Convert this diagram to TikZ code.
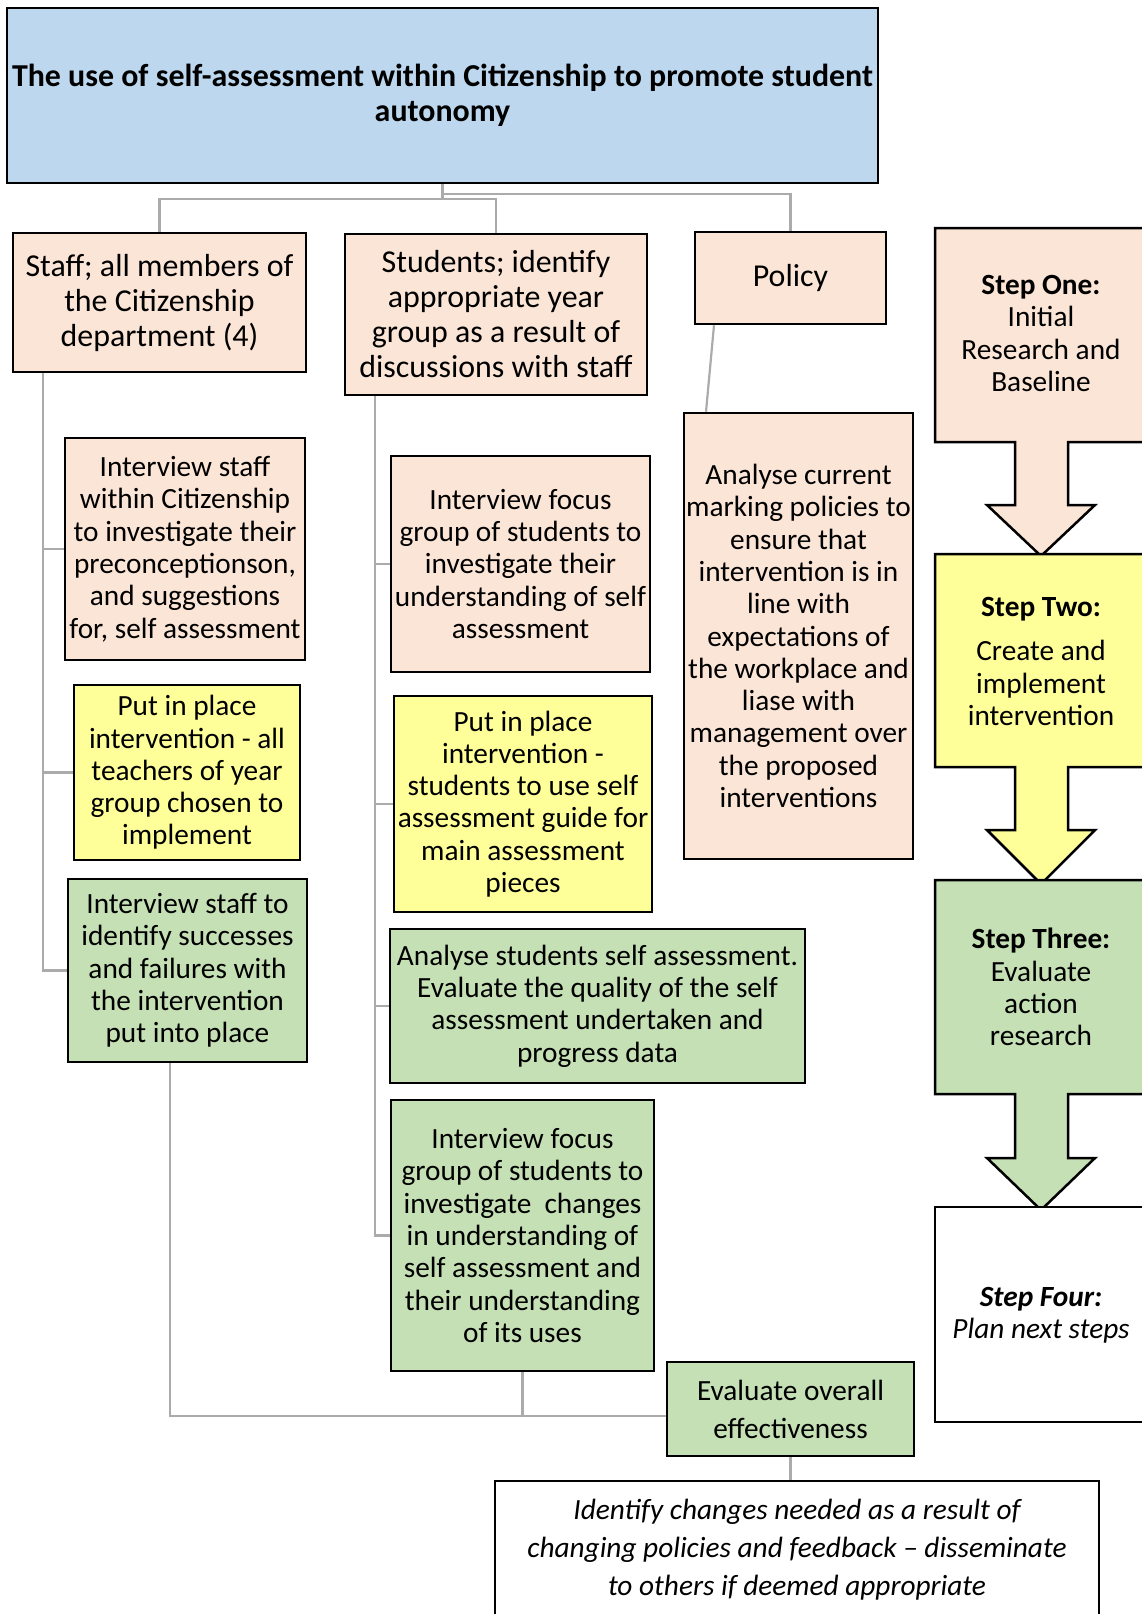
\documentclass[tikz,border=0pt]{standalone}
\usepackage{fontspec}
\setmainfont{Carlito}
\definecolor{pinkf}{HTML}{FBE5D6}
\definecolor{yelf}{HTML}{FFFF99}
\definecolor{greenf}{HTML}{C5E0B4}
\definecolor{bluef}{HTML}{BDD7EE}
\definecolor{connc}{HTML}{ABABAB}
\newcommand\bodyfnt{\fontsize{29.3}{32.3}\selectfont}
\newcommand\headfnt{\fontsize{31.9}{35}\selectfont}
\newcommand\evalfnt{\fontsize{29.3}{38}\selectfont}
\begin{document}
\begin{tikzpicture}[x=1pt,y=-1pt,
  box/.style={draw=black, line width=2.5pt, inner sep=0pt, align=center, font=\bodyfnt},
  conn/.style={draw=connc, line width=2.2pt},
  stepshape/.style={draw=black, line width=2.5pt},
  steptext/.style={align=center, inner sep=0pt, font=\bodyfnt}]
\useasboundingbox (0,0) rectangle (1141,1614);

% title and top row
\node[box, fill=bluef, minimum width=871pt, minimum height=175pt, font=\headfnt\bfseries] (title) at (442.5,95.5)
  {The use of self-assessment within Citizenship to promote student\\autonomy};
\node[box, fill=pinkf, minimum width=293pt, minimum height=139pt, font=\headfnt] (staff) at (159.5,302.5)
  {Staff; all members of\\the Citizenship\\department (4)};
\node[box, fill=pinkf, minimum width=302pt, minimum height=161pt, font=\headfnt] (students) at (496,314.5)
  {Students; identify\\appropriate year\\group as a result of\\discussions with staff};
\node[box, fill=pinkf, minimum width=191pt, minimum height=92pt, font=\headfnt] (policy) at (790.5,278)
  {Policy};

% left column
\node[box, fill=pinkf, minimum width=240pt, minimum height=222pt] (intstaff) at (185,549)
  {Interview staff\\within Citizenship\\to investigate their\\preconceptionson,\\and suggestions\\for, self assessment};
\node[box, fill=yelf, minimum width=226pt, minimum height=175pt] (putstaff) at (187,772.5)
  {Put in place\\intervention - all\\teachers of year\\group chosen to\\implement};
\node[box, fill=greenf, minimum width=239pt, minimum height=183pt] (evalstaff) at (187.5,970.5)
  {Interview staff to\\identify successes\\and failures with\\the intervention\\put into place};

% middle column
\node[box, fill=pinkf, minimum width=259pt, minimum height=216pt] (intfocus) at (520.5,564)
  {Interview focus\\group of students to\\investigate their\\understanding of self\\assessment};
\node[box, fill=yelf, minimum width=258pt, minimum height=216pt] (putstud) at (523,804)
  {Put in place\\intervention -\\students to use self\\assessment guide for\\main assessment\\pieces};
\node[box, fill=greenf, minimum width=415pt, minimum height=154pt] (analysestud) at (597.5,1006)
  {Analyse students self assessment.\\Evaluate the quality of the self\\assessment undertaken and\\progress data};
\node[box, fill=greenf, minimum width=263pt, minimum height=271pt] (intchange) at (522.5,1235.5)
  {Interview focus\\group of students to\\investigate\ \ changes\\in understanding of\\self assessment and\\their understanding\\of its uses};

% policy column
\node[box, fill=pinkf, minimum width=229pt, minimum height=446pt] (analyse) at (798.5,636)
  {Analyse current\\marking policies to\\ensure that\\intervention is in\\line with\\expectations of\\the workplace and\\liase with\\management over\\the proposed\\interventions};

% bottom
\node[box, fill=greenf, minimum width=247pt, minimum height=94pt, font=\evalfnt] (evaloverall) at (790.5,1409)
  {Evaluate overall\\effectiveness};
\node[box, fill=white, minimum width=604pt, minimum height=138pt, font=\evalfnt\itshape] (identify) at (797,1550)
  {Identify changes needed as a result of\\changing policies and feedback -- disseminate\\to others if deemed appropriate};

% steps
\path[stepshape, fill=pinkf] (935,228) -- (1150,228) -- (1150,442) -- (1068,442) -- (1068,505) -- (1095,505)
  -- (1041,556) -- (987,505) -- (1015,505) -- (1015,442) -- (935,442) -- cycle;
\path[stepshape, fill=yelf] (935,554) -- (1150,554) -- (1150,767) -- (1068,767) -- (1068,830) -- (1095,830)
  -- (1041,884) -- (987,830) -- (1015,830) -- (1015,767) -- (935,767) -- cycle;
\path[stepshape, fill=greenf] (935,880) -- (1150,880) -- (1150,1094) -- (1068,1094) -- (1068,1158) -- (1095,1158)
  -- (1041,1210) -- (987,1158) -- (1015,1158) -- (1015,1094) -- (935,1094) -- cycle;
\path[stepshape, fill=white] (935,1207) rectangle (1150,1422);

\node[steptext] (s1) at (1041,333.5) {\textbf{Step One:}\\Initial\\Research and\\Baseline};
\node[steptext] (s2) at (1041,661.5) {\textbf{Step Two:}\\[12pt]Create and\\implement\\intervention};
\node[steptext] (s3) at (1041,987) {\textbf{Step Three:}\\Evaluate\\action\\research};
\node[steptext] (s4) at (1041,1315) {\textbf{\itshape Step Four:}\\\itshape Plan next steps};

% connectors
\draw[conn] (title.south) -- ++(0,15) -| (staff.north);
\draw[conn] (title.south) -- ++(0,15) -| (students.north);
\draw[conn] (title.south) -- ++(0,10) -| (policy.north);
\draw[conn] ([xshift=-76.5pt]policy.south) -- ([xshift=-92.5pt]analyse.north);

\draw[conn] ([xshift=-116.5pt]staff.south) |- (intstaff.west);
\draw[conn] ([xshift=-116.5pt]staff.south) |- (putstaff.west);
\draw[conn] ([xshift=-116.5pt]staff.south) |- (evalstaff.west);

\draw[conn] ([xshift=-121pt]students.south) |- (intfocus.west);
\draw[conn] ([xshift=-121pt]students.south) |- (putstud.west);
\draw[conn] ([xshift=-121pt]students.south) |- (analysestud.west);
\draw[conn] ([xshift=-121pt]students.south) |- (intchange.west);

\draw[conn] ([xshift=-17.5pt]evalstaff.south) |- ([yshift=-7pt]evaloverall.west);
\draw[conn] (intchange.south) |- ([yshift=-7pt]evaloverall.west);
\draw[conn] (evaloverall.south) -- (evaloverall.south |- identify.north);
\end{tikzpicture}
\end{document}
